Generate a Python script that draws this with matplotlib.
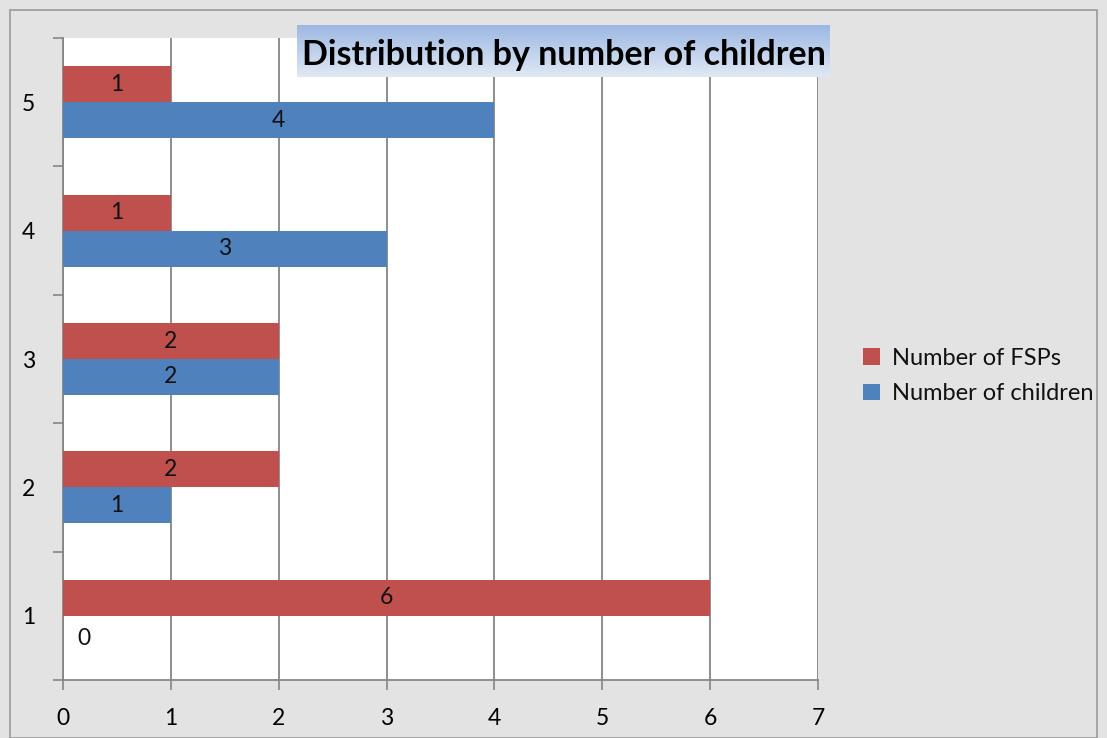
import numpy as np
import matplotlib
matplotlib.use("Agg")
import matplotlib.pyplot as plt
from matplotlib.patches import Rectangle
from matplotlib.colors import LinearSegmentedColormap

plt.rcParams['font.family'] = ['Lato', 'DejaVu Sans']

categories = [1, 2, 3, 4, 5]
fsps = [6, 2, 2, 1, 1]
children = [0, 1, 2, 3, 4]
series_names = ["Number of FSPs", "Number of children"]
x_ticks = [0, 1, 2, 3, 4, 5, 6, 7]
title = "Distribution by number of children"

red = "#C0504D"
blue = "#4F81BD"
grid_c = "#868686"
fs = 16.5

fig = plt.figure(figsize=(11.07, 7.38), dpi=100)
fig.patch.set_facecolor("#e3e3e3")

# chart border
fig.add_artist(Rectangle((10/1107, 0), 1 - 20/1107, 1 - 10/738, transform=fig.transFigure,
                         fill=False, edgecolor="#9a9a9a", linewidth=1.2))

ax = fig.add_axes([63/1107, 1 - 680/738, (818 - 63)/1107, (680 - 38)/738])
ax.set_facecolor("white")

h = 0.28
y = np.array(categories, dtype=float)
b1 = ax.barh(y + h/2, fsps, height=h, color=red, label=series_names[0], zorder=3)
b2 = ax.barh(y - h/2, children, height=h, color=blue, label=series_names[1], zorder=3)

for yy, v in zip(y + h/2, fsps):
    ax.text(max(v/2, 0.19), yy, str(v), ha="center", va="center", fontsize=fs, color="#111111", zorder=4)
for yy, v in zip(y - h/2, children):
    ax.text(max(v/2, 0.19), yy - 0.04 if v == 0 else yy, str(v), ha="center", va="center",
            fontsize=fs, color="#111111", zorder=4)

ax.set_xlim(0, 7)
ax.set_ylim(0.5, 5.5)
ax.set_xticks(x_ticks)
ax.set_xticklabels([str(t) for t in x_ticks], fontsize=fs)
ax.set_yticks(categories)
ax.set_yticklabels([str(c) for c in categories], fontsize=fs)
ax.set_yticks(np.arange(0.5, 5.6, 1.0), minor=True)
ax.tick_params(axis="y", which="major", length=0, pad=20)
ax.tick_params(axis="y", which="minor", length=7, color=grid_c, width=1.2)
ax.tick_params(axis="x", which="major", length=7, color=grid_c, width=1.2, pad=13)
ax.xaxis.grid(True, color=grid_c, linewidth=1.3, zorder=1)
ax.set_axisbelow(True)
for s in ["top", "right"]:
    ax.spines[s].set_visible(False)
for s in ["left", "bottom"]:
    ax.spines[s].set_color(grid_c)
    ax.spines[s].set_linewidth(1.3)

leg = fig.legend(handles=[b1, b2], labels=series_names, loc="center left",
                 bbox_to_anchor=(842/1107, 1 - 376/738), frameon=False, fontsize=17,
                 handlelength=0.7, handleheight=0.7, handletextpad=0.5, labelspacing=0.6)
for t in leg.get_texts():
    t.set_color("#111111")

# title box with gradient
tax = fig.add_axes([297/1107, 1 - 77/738, (830 - 297)/1107, (77 - 25)/738])
grad = np.linspace(0, 1, 100).reshape(-1, 1)
cmap = LinearSegmentedColormap.from_list("tg", ["#9BB7E2", "#E0E8F4"])
tax.imshow(grad, aspect="auto", cmap=cmap, extent=[0, 1, 0, 1], origin="upper")
tax.set_axis_off()
tax.text(0.5, 0.42, title, ha="center", va="center", fontsize=24.5, fontweight="bold",
         color="black", transform=tax.transAxes)

fig.savefig("out.png", dpi=100, facecolor=fig.get_facecolor())
